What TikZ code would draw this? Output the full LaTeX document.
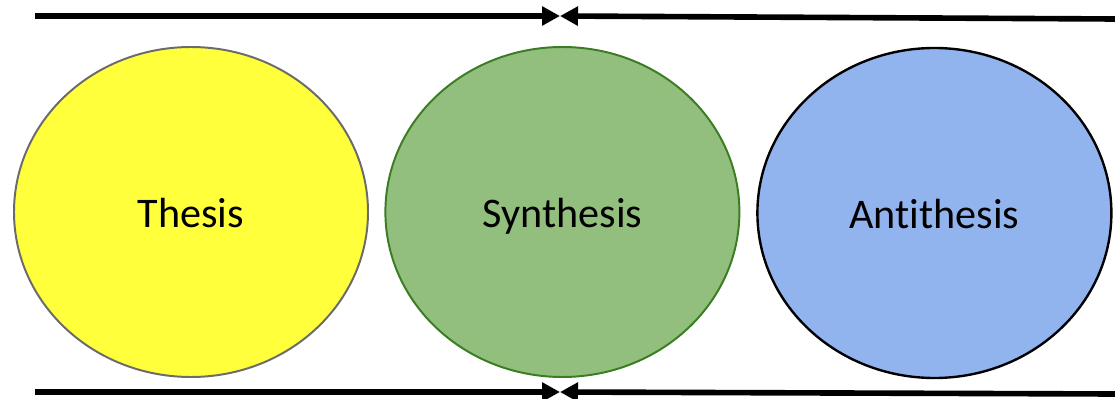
\documentclass[tikz,border=0pt]{standalone}
\usepackage{fontspec}
\setmainfont{Carlito}[RawFeature=-liga]
\usepackage{tikz}
\usetikzlibrary{arrows.meta,shapes.geometric}
\usepackage{xcolor}
\definecolor{thesisfill}{HTML}{FFFF3B}
\definecolor{thesisline}{HTML}{6B6B6B}
\definecolor{synthfill}{HTML}{93BF7E}
\definecolor{synthline}{HTML}{3A7D22}
\definecolor{antifill}{HTML}{92B4EE}

\begin{document}
\begin{tikzpicture}[>={Triangle[length=4.5mm,width=4.6mm]},line cap=butt,
  idea/.style={ellipse,minimum width=8.85cm,minimum height=8.25cm,inner sep=0pt,
    text height=0.95cm,text depth=0.2cm,
    line width=1.4pt,font=\fontsize{30}{36}\selectfont},
  flow/.style={->,line width=4pt}]
\useasboundingbox (0,0) rectangle (27.875,9.95);
% the three ideas
\node[idea,draw=thesisline,fill=thesisfill] (thesis) at (4.775,4.65) {Thesis};
\node[idea,draw=synthline,fill=synthfill] (synth) at (14.06,4.65) {Synthesis};
\node[idea,draw=black,fill=antifill,line width=1.7pt] (anti) at (23.36,4.625) {Antithesis};
% end points of the two pairs of arrows
\coordinate (topL) at (0.875,9.55);
\coordinate (topR) at (27.9,9.475);
\coordinate (topM) at (14.0,9.55);
\coordinate (botL) at (0.875,0.15);
\coordinate (botR) at (27.9,0.1);
\coordinate (botM) at (14.0,0.15);
\draw[flow] (topL) -- (topM);
\draw[flow] (topR) -- (topM);
\draw[flow] (botL) -- (botM);
\draw[flow] (botR) -- (botM);
\end{tikzpicture}
\end{document}
